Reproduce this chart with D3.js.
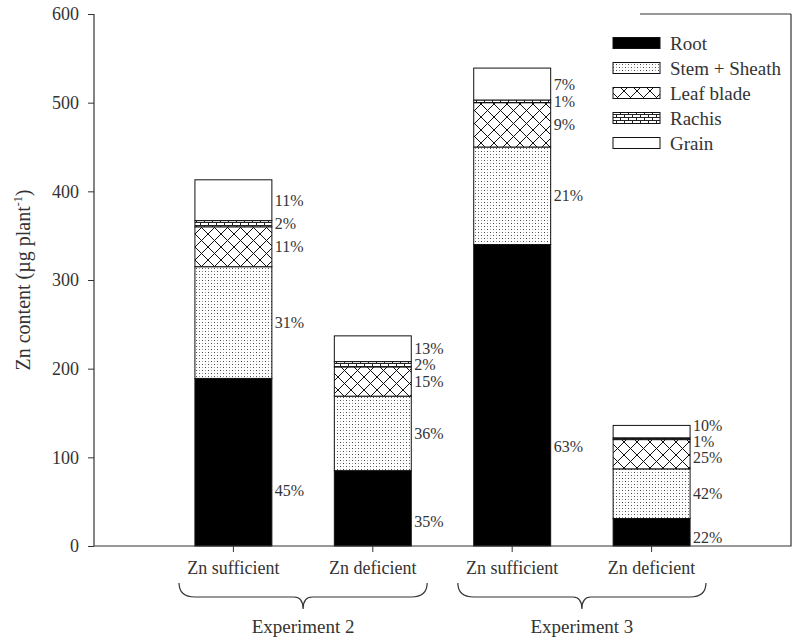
<!DOCTYPE html>
<html>
<head>
<meta charset="utf-8">
<script src="https://cdn.jsdelivr.net/npm/d3@7"></script>
<style>
  body { margin: 0; background: #fff; }
  text { font-family: "Liberation Serif", "Times New Roman", serif; fill: #333; }
</style>
</head>
<body>
<div id="chart"></div>
<script>
{
// data (Zn content, ug per plant)
const groups = ["Experiment 2", "Experiment 3"];
const treatments = ["Zn sufficient", "Zn deficient", "Zn sufficient", "Zn deficient"];
const parts = ["Root", "Stem + Sheath", "Leaf blade", "Rachis", "Grain"];

const root       = [189, 85, 340, 31];
const stemSheath = [126, 84, 110, 56];
const leafBlade  = [45, 33, 50, 33];
const rachis     = [7, 6, 3, 2];
const grain      = [46, 29, 36, 14];

// percent labels printed next to each segment
const pctRoot   = [45, 35, 63, 22];
const pctStem   = [31, 36, 21, 42];
const pctLeaf   = [11, 15, 9, 25];
const pctRachis = [2, 2, 1, 1];
const pctGrain  = [11, 13, 7, 10];

const yTicks = [0, 100, 200, 300, 400, 500, 600];

const w = 800, h = 643;
const left = 94, right = 791, top = 14, bottom = 546;

// where along each segment (from its base) the percent label sits
const labelAt = [0.33, 0.5, 0.5, 0.5, 0.5];

const svg = d3.select("#chart")
    .append("svg")
    .attr("width", w)
    .attr("height", h);

// patterns for the segment fills
const defs = svg.append("defs");

const pDots = defs.append("pattern")
    .attr("id", "dots")
    .attr("patternUnits", "userSpaceOnUse")
    .attr("width", 6).attr("height", 6);
pDots.append("rect").attr("width", 6).attr("height", 6).attr("fill", "#fff");
[[1, 1, "#444"], [4, 1, "#999"], [1, 4, "#999"], [4, 4, "#444"]].forEach(d => {
    pDots.append("rect").attr("x", d[0]).attr("y", d[1])
        .attr("width", 1).attr("height", 1).attr("fill", d[2]);
});

const pCross = defs.append("pattern")
    .attr("id", "cross")
    .attr("patternUnits", "userSpaceOnUse")
    .attr("width", 13).attr("height", 13);
pCross.append("rect").attr("width", 13).attr("height", 13).attr("fill", "#fff");
pCross.append("path")
    .attr("d", "M0,0L13,13M0,13L13,0")
    .attr("stroke", "#111").attr("stroke-width", 1);

const pBrick = defs.append("pattern")
    .attr("id", "brick")
    .attr("patternUnits", "userSpaceOnUse")
    .attr("width", 8).attr("height", 6);
pBrick.append("rect").attr("width", 8).attr("height", 6).attr("fill", "#fff");
pBrick.append("path")
    .attr("d", "M0,0.5H8M0,3.5H8M0.5,0V3.5M4.5,3.5V6")
    .attr("stroke", "#222").attr("stroke-width", 1);

const fills = ["#000", "url(#dots)", "url(#cross)", "url(#brick)", "#fff"];

// scales
const x = d3.scaleBand()
    .domain(d3.range(treatments.length))
    .range([left, right])
    .paddingInner(0.448)
    .paddingOuter(0.724);

const y = d3.scaleLinear()
    .domain([0, 600])
    .range([bottom, top]);

// stack the five parts
const rows = treatments.map((t, i) => ({
    i: i,
    "Root": root[i],
    "Stem + Sheath": stemSheath[i],
    "Leaf blade": leafBlade[i],
    "Rachis": rachis[i],
    "Grain": grain[i]
}));
const series = d3.stack().keys(parts)(rows);
const pcts = [pctRoot, pctStem, pctLeaf, pctRachis, pctGrain];

series.forEach((s, k) => {
    svg.append("g")
        .selectAll("rect")
        .data(s)
        .join("rect")
        .attr("x", d => x(d.data.i))
        .attr("y", d => y(d[1]))
        .attr("width", x.bandwidth())
        .attr("height", d => y(d[0]) - y(d[1]))
        .attr("fill", fills[k])
        .attr("stroke", "#111")
        .attr("stroke-width", 1);
});

// percent labels, spread out where segments are thin
const minGap = 16;
treatments.forEach((t, i) => {
    let ys = series.map((s, k) => y(s[i][0] + labelAt[k] * (s[i][1] - s[i][0])));
    for (let it = 0; it < 60; it++) {
        for (let k = 0; k < ys.length - 1; k++) {
            // k is lower, k+1 is above it
            const gap = ys[k] - ys[k + 1];
            if (gap < minGap) {
                const push = (minGap - gap) / 2;
                ys[k] += push;
                ys[k + 1] -= push;
            }
        }
    }
    ys.forEach((yy, k) => {
        svg.append("text")
            .attr("x", x(i) + x.bandwidth() + 3)
            .attr("y", yy)
            .attr("dy", "0.35em")
            .style("font-size", "16px")
            .text(pcts[k][i] + "%");
    });
});

// axes
const yAxis = svg.append("g")
    .attr("transform", `translate(${left},0)`)
    .call(d3.axisLeft(y).tickValues(yTicks).tickSize(6).tickPadding(9));

const xAxis = svg.append("g")
    .attr("transform", `translate(0,${bottom})`)
    .call(d3.axisBottom(x).tickSize(6).tickPadding(9).tickFormat(i => treatments[i]));

[yAxis, xAxis].forEach(a => {
    a.select(".domain").remove();
    a.selectAll("line").attr("stroke", "#333");
    a.selectAll("text")
        .style("font-family", "Liberation Serif, serif")
        .style("font-size", "18px")
        .attr("fill", "#333");
});

// frame lines: left, bottom and right
svg.append("path")
    .attr("d", `M${left},${top}V${bottom}H${right}V${top}`)
    .attr("fill", "none")
    .attr("stroke", "#333")
    .attr("stroke-width", 1.2);

// short top edge above the legend
svg.append("line")
    .attr("x1", 640).attr("x2", right)
    .attr("y1", top).attr("y2", top)
    .attr("stroke", "#333")
    .attr("stroke-width", 1.2);

// y axis title
svg.append("text")
    .attr("transform", `translate(23,${(top + bottom) / 2}) rotate(-90)`)
    .attr("text-anchor", "middle")
    .attr("dy", "0.35em")
    .style("font-size", "20px")
    .html('Zn content (µg plant<tspan dy="-8" style="font-size:12px">-1</tspan><tspan dy="8">)</tspan>');

// braces under each experiment
groups.forEach((g, j) => {
    const a = x(2 * j) + x.bandwidth() / 2;
    const b = x(2 * j + 1) + x.bandwidth() / 2;
    const c = (a + b) / 2;
    const half = (b - a) * 0.89;
    const x0 = c - half, x1 = c + half;
    const yTop = 583, yMid = 597, yTip = 609;
    svg.append("path")
        .attr("d", `M${x0},${yTop}Q${x0},${yMid} ${x0 + 16},${yMid}L${c - 9},${yMid}` +
            `Q${c},${yMid} ${c},${yTip}Q${c},${yMid} ${c + 9},${yMid}` +
            `L${x1 - 16},${yMid}Q${x1},${yMid} ${x1},${yTop}`)
        .attr("fill", "none")
        .attr("stroke", "#333")
        .attr("stroke-width", 1.2);
    svg.append("text")
        .attr("x", c)
        .attr("y", 633)
        .attr("text-anchor", "middle")
        .style("font-size", "19px")
        .text(g);
});

// legend
const legend = svg.append("g");
parts.forEach((p, k) => {
    const ly = 43 + k * 25;
    legend.append("rect")
        .attr("x", 613).attr("y", ly - 5.5)
        .attr("width", 47).attr("height", 11)
        .attr("fill", fills[k])
        .attr("stroke", "#111");
    legend.append("text")
        .attr("x", 670).attr("y", ly)
        .attr("dy", "0.35em")
        .style("font-size", "19px")
        .text(p);
});
}
</script>
</body>
</html>
